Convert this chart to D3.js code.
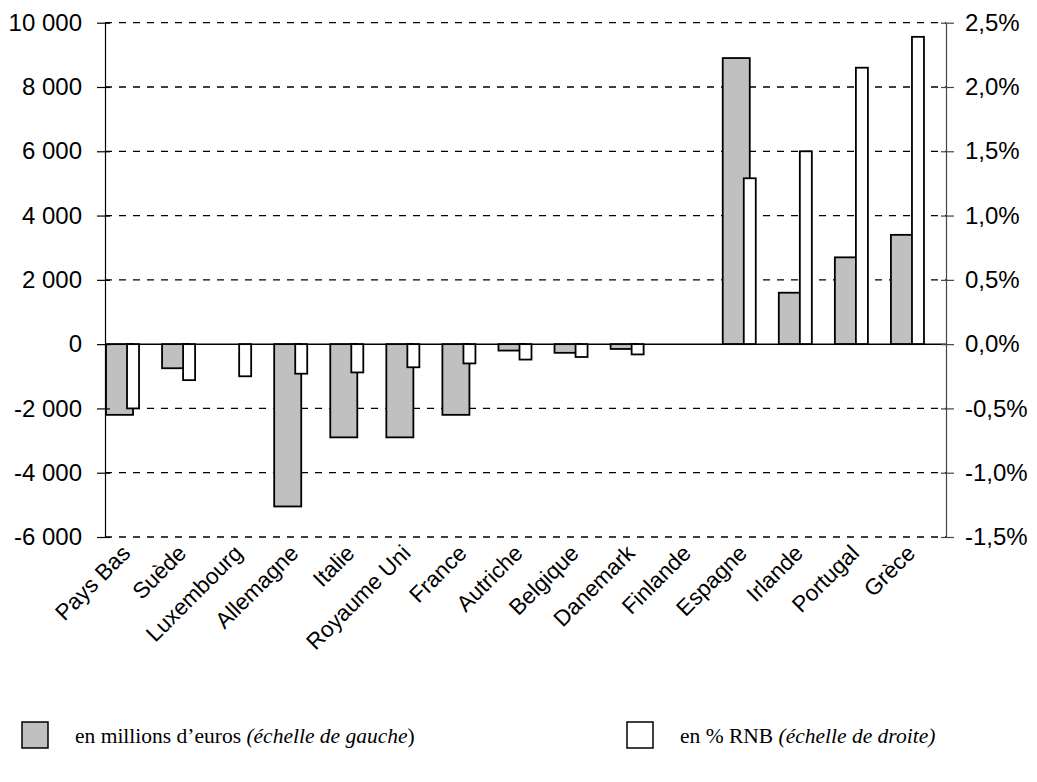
<!DOCTYPE html>
<html>
<head>
<meta charset="utf-8">
<script src="https://cdn.jsdelivr.net/npm/d3@7"></script>
<style>
  html, body { margin: 0; padding: 0; background: #fff; }
  svg { display: block; }
</style>
</head>
<body>
<svg id="chart" width="1037" height="782"></svg>
<script>
// Countries on the category axis
const categories = ["Pays Bas", "Suède", "Luxembourg", "Allemagne", "Italie", "Royaume Uni", "France",
  "Autriche", "Belgique", "Danemark", "Finlande", "Espagne", "Irlande", "Portugal", "Grèce"];

// Net balance in millions of euros (left scale); null = no bar
const millionsEuros = [-2200, -750, null, -5050, -2900, -2900, -2200, -200, -270, -150, null, 8900, 1600, 2700, 3400];

// Net balance as % of GNI (right scale)
const pctRNB = [-0.50, -0.28, -0.25, -0.23, -0.22, -0.18, -0.15, -0.12, -0.10, -0.08, null, 1.29, 1.50, 2.15, 2.39];

// Axis ticks
const leftTicks = [-6000, -4000, -2000, 0, 2000, 4000, 6000, 8000, 10000];
const rightTicks = [-1.5, -1.0, -0.5, 0, 0.5, 1.0, 1.5, 2.0, 2.5];

const svg = d3.select("#chart");
const plot = { left: 105, right: 946, top: 22.7, bottom: 537 };

const x = d3.scaleBand().domain(categories).range([plot.left, plot.right]).padding(0);
const yL = d3.scaleLinear().domain([-6000, 10000]).range([plot.bottom, plot.top]);
const yR = d3.scaleLinear().domain([-1.5, 2.5]).range([plot.bottom, plot.top]);

// French number formats with a plain hyphen for negatives
const frNum = v => d3.format(",")(v).replace(/,/g, " ").replace("\u2212", "-");
const frPct = v => d3.format(".1f")(v).replace(".", ",").replace("\u2212", "-") + "%";

// Dashed gridlines (every left tick except zero)
svg.append("g")
  .selectAll("line")
  .data(leftTicks.filter(t => t !== 0))
  .join("line")
  .attr("x1", plot.left).attr("x2", plot.right)
  .attr("y1", d => yL(d)).attr("y2", d => yL(d))
  .attr("stroke", "#000").attr("stroke-width", 1.3)
  .attr("stroke-dasharray", "7,7");

const bw = x.bandwidth();

// Grey bars: millions of euros, left half of each band
svg.append("g")
  .selectAll("rect")
  .data(categories.map((c, i) => ({ c, v: millionsEuros[i] })).filter(d => d.v !== null))
  .join("rect")
  .attr("x", d => x(d.c) + 1)
  .attr("width", bw / 2 - 1)
  .attr("y", d => Math.min(yL(d.v), yL(0)))
  .attr("height", d => Math.abs(yL(d.v) - yL(0)))
  .attr("fill", "#c0c0c0")
  .attr("stroke", "#000").attr("stroke-width", 1.8);

// White bars: % of GNI, narrow and centred on the band
const ww = 12;
svg.append("g")
  .selectAll("rect")
  .data(categories.map((c, i) => ({ c, v: pctRNB[i] })).filter(d => d.v !== null))
  .join("rect")
  .attr("x", d => x(d.c) + bw / 2 - ww / 2)
  .attr("width", ww)
  .attr("y", d => Math.min(yR(d.v), yR(0)))
  .attr("height", d => Math.abs(yR(d.v) - yR(0)))
  .attr("fill", "#fff")
  .attr("stroke", "#000").attr("stroke-width", 1.8);

// Zero line
svg.append("line")
  .attr("x1", plot.left).attr("x2", plot.right)
  .attr("y1", yL(0)).attr("y2", yL(0))
  .attr("stroke", "#000").attr("stroke-width", 1.5);

// Left axis
const gL = svg.append("g").attr("transform", `translate(${plot.left},0)`)
  .call(d3.axisLeft(yL).tickValues(leftTicks).tickFormat(frNum).tickSizeInner(8).tickSizeOuter(0).tickPadding(15));
gL.select(".domain").attr("stroke", "#000").attr("stroke-width", 1.2);
gL.selectAll(".tick line").attr("x2", -8).attr("x1", 5).attr("stroke", "#000").attr("stroke-width", 1.2);
gL.selectAll(".tick text").attr("font-family", "Liberation Sans, Arial, sans-serif")
  .attr("font-size", 24).attr("fill", "#000").attr("x", -23);

// Right axis
const gR = svg.append("g").attr("transform", `translate(${plot.right},0)`)
  .call(d3.axisRight(yR).tickValues(rightTicks).tickFormat(frPct).tickSizeInner(8).tickSizeOuter(0).tickPadding(12));
gR.select(".domain").attr("stroke", "#444").attr("stroke-width", 1.2);
gR.selectAll(".tick line").attr("x1", -5).attr("x2", 8).attr("stroke", "#444").attr("stroke-width", 1.2);
gR.selectAll(".tick text").attr("font-family", "Liberation Sans, Arial, sans-serif")
  .attr("font-size", 24).attr("fill", "#000").attr("x", 19);

// Category labels, rotated 45°
svg.append("g")
  .selectAll("text")
  .data(categories)
  .join("text")
  .attr("transform", d => `translate(${x(d) + bw / 2 - 7},${plot.bottom + 12}) rotate(-45)`)
  .attr("text-anchor", "end")
  .attr("dy", "0.35em")
  .attr("font-family", "Liberation Sans, Arial, sans-serif")
  .attr("font-size", 22.5)
  .attr("fill", "#000")
  .text(d => d);

// Legend
const legendItems = [
  { x: 22, fill: "#c0c0c0", plain: "en millions d’euros ", ital: "(échelle de gauche", tail: ")" },
  { x: 627, fill: "#fff", plain: "en % RNB ", ital: "(échelle de droite)", tail: "" }
];
const lg = svg.append("g").selectAll("g").data(legendItems).join("g");
lg.append("rect")
  .attr("x", d => d.x).attr("y", 722).attr("width", 26).attr("height", 26)
  .attr("fill", d => d.fill).attr("stroke", "#000").attr("stroke-width", 1.5);
const lt = lg.append("text")
  .attr("x", d => d.x + 53).attr("y", 743)
  .attr("font-family", "Liberation Serif, Times New Roman, serif")
  .attr("font-size", 21.5).attr("fill", "#000");
lt.append("tspan").text(d => d.plain);
lt.append("tspan").attr("font-style", "italic").text(d => d.ital);
lt.append("tspan").text(d => d.tail);
</script>
</body>
</html>
